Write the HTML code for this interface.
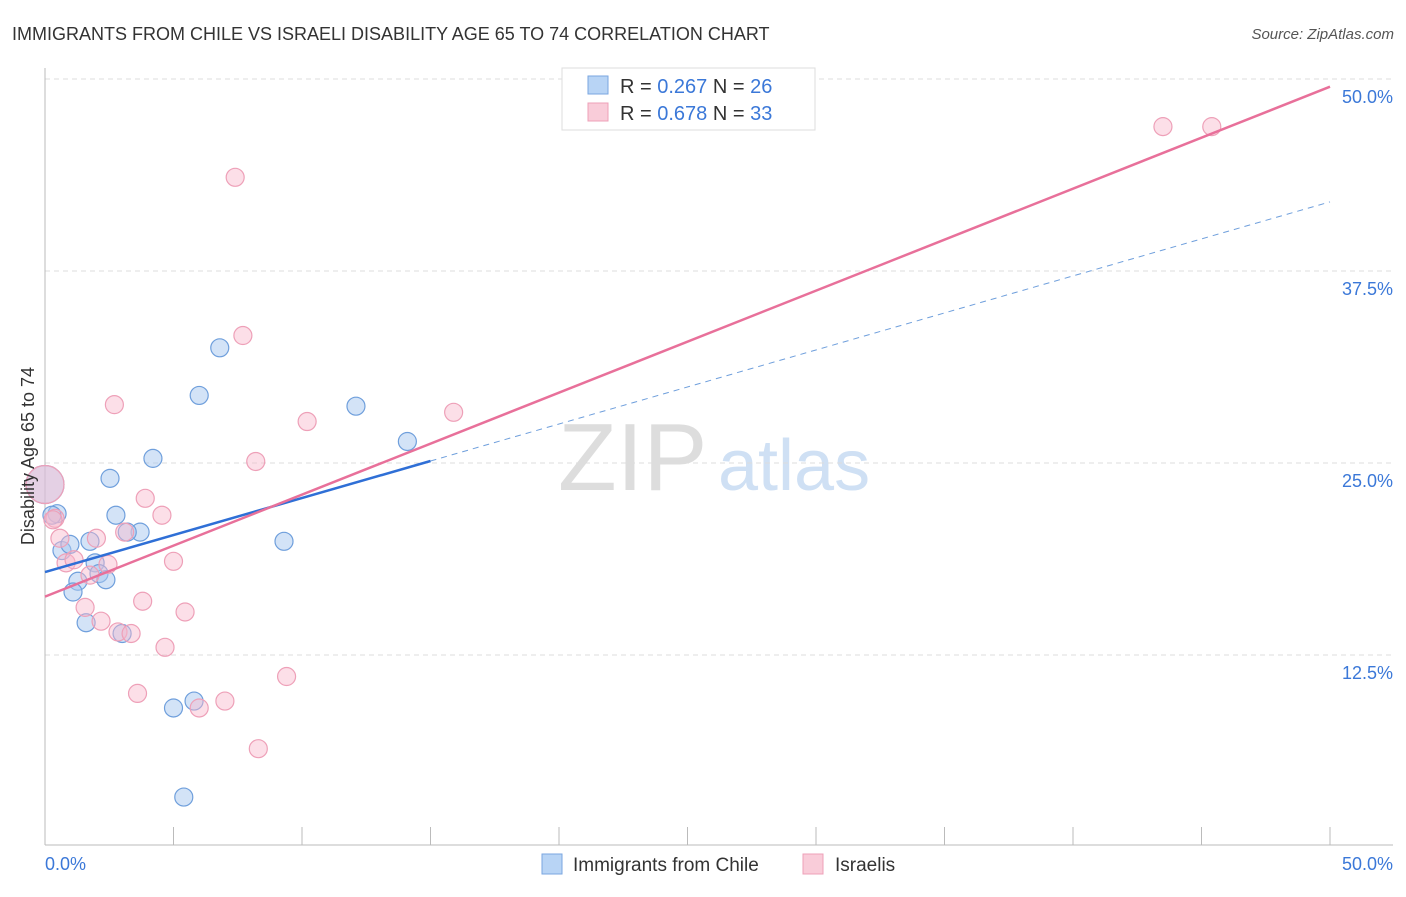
<!DOCTYPE html>
<html><head><meta charset="utf-8"><style>
body{margin:0;background:#fff;font-family:"Liberation Sans",sans-serif}
svg text{font-family:"Liberation Sans",sans-serif}
</style></head><body>
<svg id="c" width="1406" height="892">
<text x="12" y="40" font-size="18" fill="#333">IMMIGRANTS FROM CHILE VS ISRAELI DISABILITY AGE 65 TO 74 CORRELATION CHART</text>
<text x="1394" y="39" font-size="15" fill="#555" text-anchor="end" font-style="italic">Source: ZipAtlas.com</text>
<text x="558" y="490" font-size="96" fill="#ddd" font-family="Liberation Serif">ZIP</text>
<text x="718" y="490" font-size="72" fill="#cfe0f4">atlas</text>
<g id="grid"></g><g id="axes"></g><g id="marks"></g>
<text transform="translate(34,456) rotate(-90)" font-size="18" fill="#333" text-anchor="middle">Disability Age 65 to 74</text>
<g>
<rect x="562" y="68" width="253" height="62" fill="#fff" stroke="#ddd"/>
<rect x="588" y="76" width="20" height="18" fill="#b8d4f5" stroke="#7aa6e0"/>
<text x="620" y="93" font-size="20" fill="#333">R = <tspan fill="#3b78d8">0.267</tspan>   N = <tspan fill="#3b78d8">26</tspan></text>
<rect x="588" y="103" width="20" height="18" fill="#f9ccd9" stroke="#eea0b8"/>
<text x="620" y="120" font-size="20" fill="#333">R = <tspan fill="#3b78d8">0.678</tspan>   N = <tspan fill="#3b78d8">33</tspan></text>
</g>
<g>
<rect x="542" y="854" width="20" height="20" fill="#b8d4f5" stroke="#7aa6e0"/>
<text x="573" y="871" font-size="19" fill="#333">Immigrants from Chile</text>
<rect x="803" y="854" width="20" height="20" fill="#f9ccd9" stroke="#eea0b8"/>
<text x="835" y="871" font-size="19" fill="#333">Israelis</text>
</g>
</svg>
<script>
const yTicks=[12.5,25,37.5,50];
const yTickLabels=["12.5%","25.0%","37.5%","50.0%"];
const xTickLabels=["0.0%","50.0%"];
const chileX=[2.53,4.2,6.0,6.8,12.1,14.1,9.3,0.47,2.76,3.7,3.2,0.66,0.97,1.75,1.95,2.1,2.37,1.28,1.09,1.6,3.0,5.0,5.8,5.4,0.27,0];
const chileY=[24.0,25.3,29.4,32.5,28.7,26.4,19.9,21.7,21.6,20.5,20.5,19.3,19.7,19.9,18.5,17.8,17.4,17.3,16.6,14.6,13.9,9.05,9.5,3.25,21.6,23.6];
const israX=[43.5,45.4,7.4,7.7,2.7,10.2,15.9,8.2,3.9,4.55,3.1,2.0,0.39,0.58,0.82,1.13,2.45,1.75,5.0,3.8,1.56,5.45,2.18,2.84,3.35,4.67,3.6,6.0,7.0,9.4,8.3,0.31,0];
const israY=[46.9,46.9,43.6,33.3,28.8,27.7,28.3,25.1,22.7,21.6,20.5,20.1,21.4,20.1,18.5,18.7,18.4,17.7,18.6,16.0,15.6,15.3,14.7,14.0,13.9,13.0,10.0,9.05,9.5,11.1,6.4,21.3,23.6];
const chileLine=[17.9,42.0]; // y at x=0 and x=50
const chileSolidEnd=15.0;
const israLine=[16.3,49.5];
const NS="http://www.w3.org/2000/svg";
const X=v=>45+v*1285/50, Y=v=>847-v*768/50;
function mk(p,t,a){const e=document.createElementNS(NS,t);for(const k in a)e.setAttribute(k,a[k]);p.appendChild(e);return e;}
const g=document.getElementById('grid'),ax=document.getElementById('axes'),m=document.getElementById('marks');
yTicks.forEach((t,i)=>{
 const l=mk(g,'line',{x1:45,x2:1393,y1:Y(t),y2:Y(t),stroke:'#ddd','stroke-dasharray':'5,4'});
 
 
 const tx=mk(ax,'text',{x:1393,y:Y(t)+24,'font-size':18,fill:'#3b78d8','text-anchor':'end'});tx.textContent=yTickLabels[i];
 
 
});
mk(ax,'line',{x1:45,x2:45,y1:68,y2:845,stroke:'#bbb'});
mk(ax,'line',{x1:45,x2:1393,y1:845,y2:845,stroke:'#bbb'});
for(let i=0;i<=10;i++){const t=mk(ax,'line',{x1:X(i*5),x2:X(i*5),y1:827,y2:845,stroke:'#bbb'});
 
 }
[[0,'start'],[50,'end']].forEach((p,i)=>{const t=mk(ax,'text',{x:i?1393:45,y:870,'font-size':18,fill:'#3b78d8','text-anchor':p[1]});t.textContent=xTickLabels[i];
 
 });
function pts(xs,ys,fill,stroke,name){xs.forEach((x,i)=>{const big=(x===0);const c=mk(m,'circle',{cx:X(x),cy:Y(ys[i]),r:big?19:9,fill:fill,stroke:stroke,'stroke-width':1.2});
 
 });}
pts(chileX,chileY,'rgba(168,200,240,0.5)','#6f9fdc','chile-point');
pts(israX,israY,'rgba(248,185,205,0.45)','#eea0b8','israeli-point');
const by=x=>chileLine[0]+(chileLine[1]-chileLine[0])*x/50;
const l1=mk(m,'line',{x1:X(0),y1:Y(by(0)),x2:X(chileSolidEnd),y2:Y(by(chileSolidEnd)),stroke:'#2f6fd6','stroke-width':2.5});


const l2=mk(m,'line',{x1:X(chileSolidEnd),y1:Y(by(chileSolidEnd)),x2:X(50),y2:Y(by(50)),stroke:'#6f9fdc','stroke-width':1,'stroke-dasharray':'6,5'});


const l3=mk(m,'line',{x1:X(0),y1:Y(israLine[0]),x2:X(50),y2:Y(israLine[1]),stroke:'#e8709a','stroke-width':2.5});


</script>
</body></html>
